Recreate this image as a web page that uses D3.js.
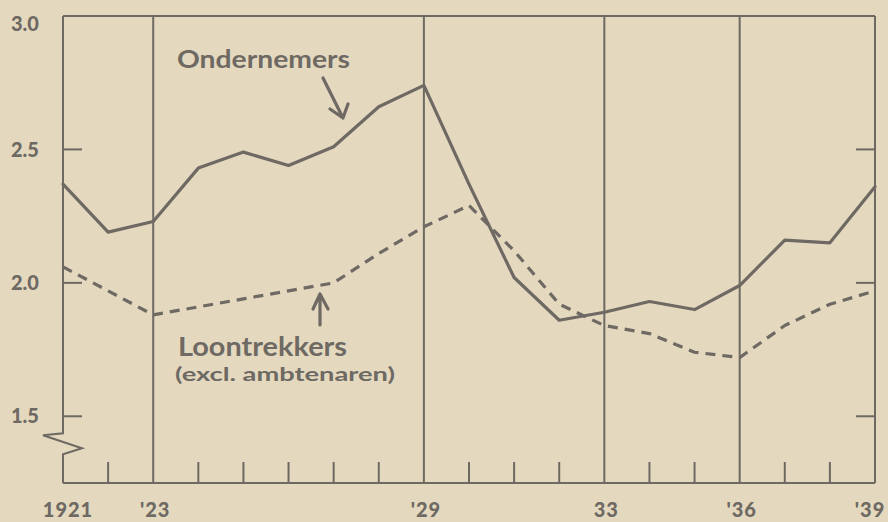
<!DOCTYPE html>
<html>
<head>
<meta charset="utf-8">
<script src="https://cdn.jsdelivr.net/npm/d3@7"></script>
<style>
  html, body { margin: 0; padding: 0; background: #e4d9bf; }
  svg { display: block; }
</style>
</head>
<body>
<svg id="chart" width="888" height="522"></svg>
<script>
// ---- data ----
const years = [1921,1922,1923,1924,1925,1926,1927,1928,1929,1930,1931,1932,1933,1934,1935,1936,1937,1938,1939];
const ondernemers = [2.37,2.19,2.23,2.43,2.49,2.44,2.51,2.66,2.74,2.37,2.02,1.86,1.89,1.93,1.90,1.99,2.16,2.15,2.36];
const loontrekkers = [2.06,1.97,1.88,1.91,1.94,1.97,2.00,2.11,2.21,2.29,2.12,1.92,1.84,1.81,1.74,1.72,1.84,1.92,1.97];
const yTicks = [3.0, 2.5, 2.0, 1.5];
const yTickLabels = ["3.0", "2.5", "2.0", "1.5"];
const xLabelYears = [1921, 1923, 1929, 1933, 1936, 1939];
const xLabels = ["1921", "'23", "'29", "33", "'36", "'39"];
const fullLineYears = [1923, 1929, 1933, 1936];

// ---- layout ----
const ink = "#6e6963";
const font = "Lato, 'DejaVu Sans', sans-serif";
const pLeft = 63, pRight = 875, pTop = 16, pBottom = 483;

const svg = d3.select("#chart");
svg.append("rect").attr("width", 888).attr("height", 522).attr("fill", "#e4d9bf");

const x = d3.scaleLinear().domain([1921, 1939]).range([pLeft, pRight]);
const y = d3.scaleLinear().domain([1.25, 3.0]).range([pBottom, pTop]);

const g = svg.append("g");

// frame: top, bottom, right
g.append("line").attr("x1", pLeft).attr("x2", pRight).attr("y1", pTop).attr("y2", pTop)
  .attr("stroke", ink).attr("stroke-width", 2);
g.append("line").attr("x1", pLeft).attr("x2", pRight).attr("y1", pBottom).attr("y2", pBottom)
  .attr("stroke", ink).attr("stroke-width", 2);
g.append("line").attr("x1", pRight).attr("x2", pRight).attr("y1", pTop).attr("y2", pBottom)
  .attr("stroke", ink).attr("stroke-width", 2);

// left axis with break
const breakTop = y(1.5) + 17;
g.append("path")
  .attr("d", `M${pLeft},${pTop} L${pLeft},${breakTop} L${pLeft-20},${breakTop+2} L${pLeft+19},${breakTop+15} L${pLeft},${breakTop+21} L${pLeft},${pBottom}`)
  .attr("fill", "none").attr("stroke", ink).attr("stroke-width", 2).attr("stroke-linejoin", "miter");

// full vertical lines
g.selectAll(".vline").data(fullLineYears).join("line")
  .attr("x1", d => x(d)).attr("x2", d => x(d))
  .attr("y1", pTop).attr("y2", pBottom)
  .attr("stroke", ink).attr("stroke-width", 2);

// short year ticks
const shortYears = years.filter(v => !fullLineYears.includes(v) && v !== 1921 && v !== 1939);
g.selectAll(".tick").data(shortYears).join("line")
  .attr("x1", d => x(d)).attr("x2", d => x(d))
  .attr("y1", pBottom - 21).attr("y2", pBottom)
  .attr("stroke", ink).attr("stroke-width", 2);

// y ticks inside (left & right)
const innerTicks = yTicks.filter(v => v < 3.0);
g.selectAll(".ltick").data(innerTicks).join("line")
  .attr("x1", pLeft).attr("x2", pLeft + 19)
  .attr("y1", d => y(d)).attr("y2", d => y(d))
  .attr("stroke", ink).attr("stroke-width", 2);
g.selectAll(".rtick").data(innerTicks).join("line")
  .attr("x1", pRight - 19).attr("x2", pRight)
  .attr("y1", d => y(d)).attr("y2", d => y(d))
  .attr("stroke", ink).attr("stroke-width", 2);

// y tick labels
g.selectAll(".ylab").data(yTicks).join("text")
  .attr("x", 11)
  .attr("y", d => Math.max(y(d), pTop + 8))
  .attr("dy", "0.36em")
  .attr("font-family", font).attr("font-weight", 900).attr("font-size", 20)
  .attr("fill", ink)
  .text((d, i) => yTickLabels[i]);

// x labels
g.selectAll(".xlab").data(xLabelYears).join("text")
  .attr("x", d => d === 1939 ? x(d) - 5 : x(d) + (d === 1921 ? 5 : 2))
  .attr("y", 517)
  .attr("text-anchor", "middle")
  .attr("font-family", font).attr("font-weight", 900).attr("font-size", 20)
  .attr("letter-spacing", 1)
  .attr("fill", ink)
  .text((d, i) => xLabels[i]);

// series lines
const line = d3.line().x((d, i) => x(years[i])).y(d => y(d));
g.append("path").datum(ondernemers).attr("d", line)
  .attr("fill", "none").attr("stroke", ink).attr("stroke-width", 3.2)
  .attr("stroke-linejoin", "round").attr("stroke-linecap", "round");
g.append("path").datum(loontrekkers).attr("d", line)
  .attr("fill", "none").attr("stroke", ink).attr("stroke-width", 3.2)
  .attr("stroke-dasharray", "10,7").attr("stroke-linejoin", "round");

// annotations
g.append("text").attr("x", 177).attr("y", 68)
  .attr("font-family", font).attr("font-weight", "bold").attr("font-size", 25)
  .attr("textLength", 173).attr("lengthAdjust", "spacingAndGlyphs")
  .attr("fill", ink).text("Ondernemers");
g.append("path").attr("d", "M323,78 L343,118 M330,109 L343,118 L348,104")
  .attr("fill", "none").attr("stroke", ink).attr("stroke-width", 3.2)
  .attr("stroke-linecap", "round").attr("stroke-linejoin", "round");

g.append("text").attr("x", 178).attr("y", 356)
  .attr("font-family", font).attr("font-weight", "bold").attr("font-size", 26)
  .attr("textLength", 169).attr("lengthAdjust", "spacingAndGlyphs")
  .attr("fill", ink).text("Loontrekkers");
g.append("text").attr("x", 175).attr("y", 381)
  .attr("font-family", font).attr("font-weight", "bold").attr("font-size", 18)
  .attr("textLength", 220).attr("lengthAdjust", "spacingAndGlyphs")
  .attr("fill", ink).text("(excl. ambtenaren)");
g.append("path").attr("d", "M320,325 L320,294 M313,309 L320,294 L328,309")
  .attr("fill", "none").attr("stroke", ink).attr("stroke-width", 3.2)
  .attr("stroke-linecap", "round").attr("stroke-linejoin", "round");
</script>
</body>
</html>
